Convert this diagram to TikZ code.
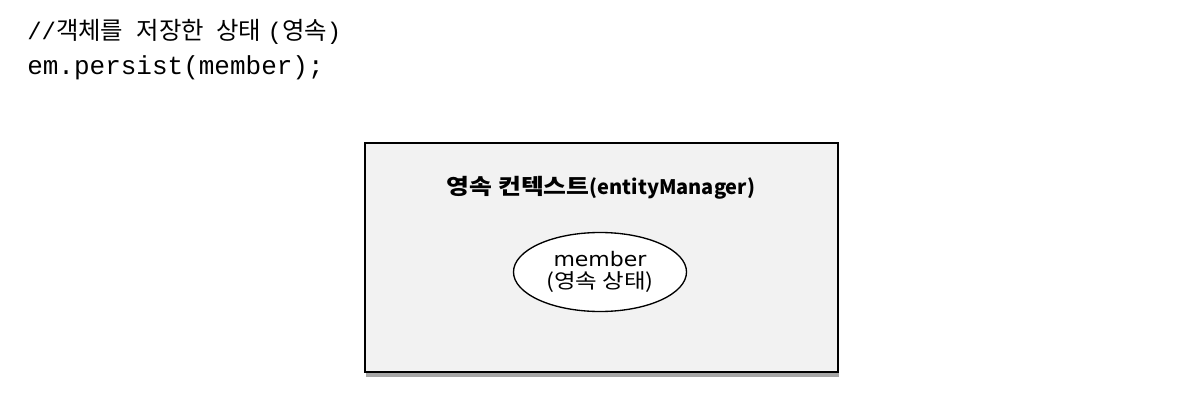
\documentclass[tikz,border=0pt]{standalone}
\usepackage{fontspec}
\setmonofont{Liberation Mono}
\newfontfamily\kr{Noto Sans CJK KR}
\newfontfamily\krw{Noto Sans CJK KR}[FakeStretch=1.15]
\newfontfamily\dvwide{DejaVu Sans}[FakeStretch=1.1]
\usetikzlibrary{shapes.geometric,shadows}
\newcommand{\mono}[1]{{\ttfamily\fontsize{18}{20}\selectfont #1}}
\begin{document}
\begin{tikzpicture}[x=0.75pt,y=-0.75pt,
  codeline/.style={anchor=west, inner sep=0pt},
  ctxbox/.style={draw=black, line width=1.5pt, fill=black!5,
    minimum width=473*0.75pt, minimum height=229*0.75pt,
    drop shadow={shadow xshift=1pt, shadow yshift=-4pt, fill=black!35, opacity=1}},
  entity/.style={ellipse, draw=black, line width=1pt, fill=white,
    minimum width=173*0.75pt, minimum height=79*0.75pt, inner sep=0pt,
    align=center, font=\fontsize{15.5}{16.5}\selectfont}]
\fill[white] (0,0) rectangle (1186,400);
\useasboundingbox (0,0) rectangle (1186,400);
\node[codeline, font=\kr\fontsize{18.3}{19}\selectfont] (c1) at (27,32)
  {\mono{//}객체를\hspace{10pt}저장한\hspace{9pt}상태\hspace{5pt}\mono{(}영속\mono{)}};
\node[codeline, font=\ttfamily\fontsize{19.5}{22}\selectfont] (c2) at (27,68) {em.persist(member);};
\node[ctxbox] (box) at (601.5,257.5) {};
\node[font=\bfseries] (title) at (601,188)
  {{\krw\fontsize{16.2}{18}\selectfont 영속 컨텍스트}{\kr\fontsize{15}{18}\selectfont(entityManager)}};
\node[entity] (m) at (600,272)
  {{\dvwide\fontsize{15}{16.5}\selectfont member}\\{\krw\fontsize{15.3}{16.5}\selectfont(영속 상태)}};
\end{tikzpicture}
\end{document}
